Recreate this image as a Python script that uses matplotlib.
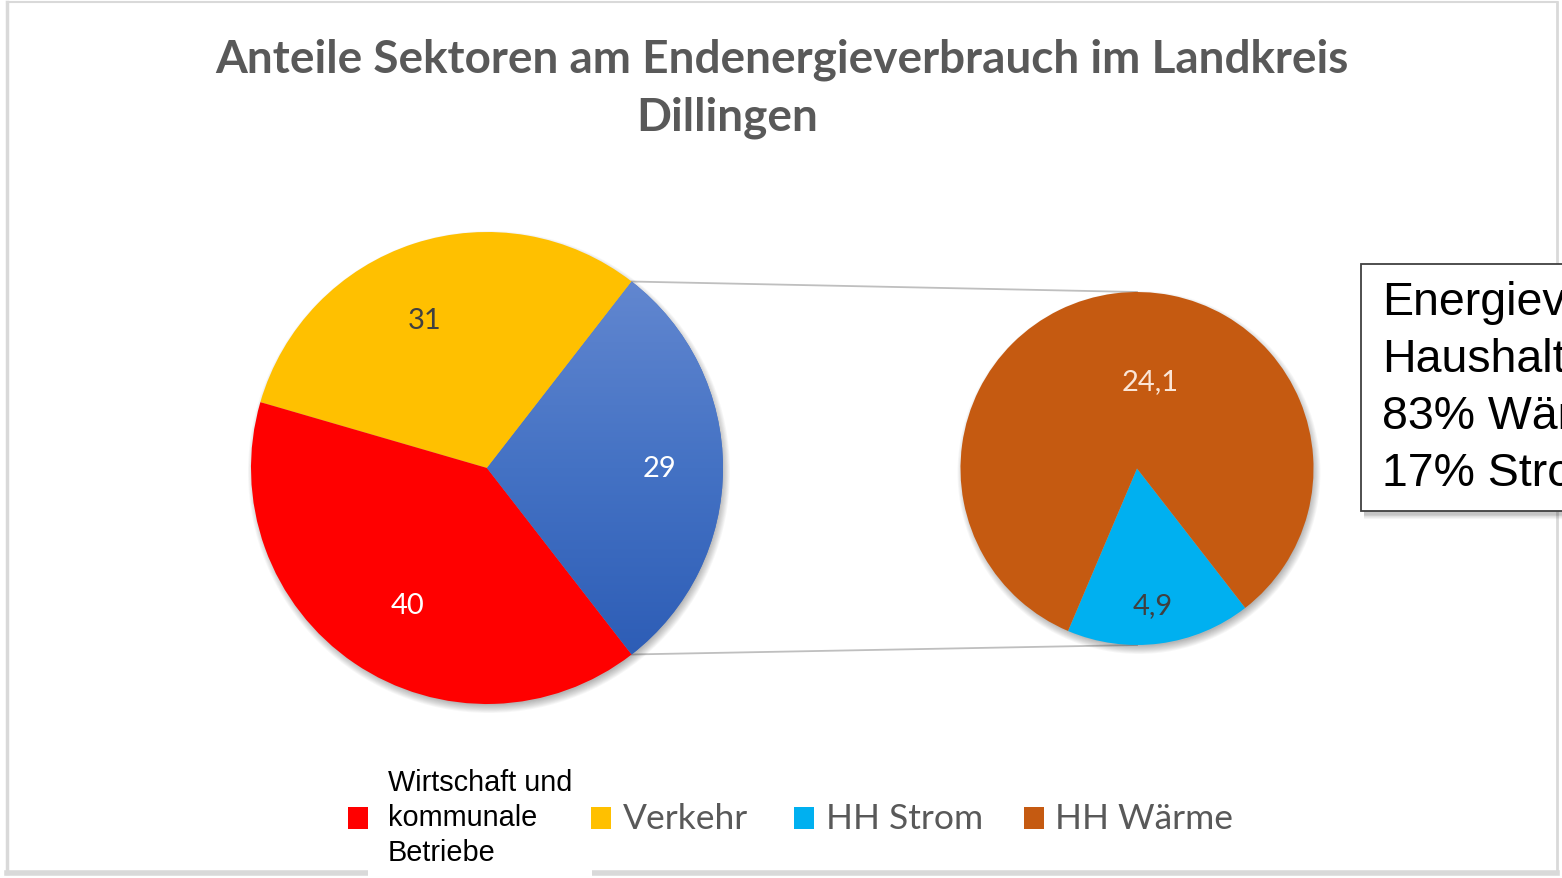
import numpy as np
import matplotlib.pyplot as plt
from matplotlib.patches import Circle, Rectangle
from matplotlib.colors import LinearSegmentedColormap

W, H = 1562, 879

title_lines = ['Anteile Sektoren am Endenergieverbrauch im Landkreis', 'Dillingen']

# main pie: HH (Strom + Wärme), Verkehr, Wirtschaft
main_labels = ['29', '31', '40']
main_values = [29, 31, 40]
main_colors = ['#4472c4', '#ffc000', '#ff0000']
main_text_colors = ['white', '#404040', 'white']

# detail pie for the households
sub_labels = ['4,9', '24,1']
sub_values = [4.9, 24.1]
sub_colors = ['#00b0f0', '#c55a11']
sub_text_colors = ['#404040', '#fbe5d6']

legend_names = ['Wirtschaft und\nkommunale\nBetriebe', 'Verkehr', 'HH Strom', 'HH Wärme']
legend_colors = ['#ff0000', '#ffc000', '#00b0f0', '#c55a11']

box_lines = ['Energieverbrauch', 'Haushalte:', '83% Wärme', '17% Strom']


def Y(y):
    return H - y


fig = plt.figure(figsize=(W / 100, H / 100), dpi=100)
ax = fig.add_axes([0, 0, 1, 1])
ax.set_axis_off()

# frame
frame_c = '#d9d9d9'
ax.plot([7, 7], [Y(3), Y(874)], color=frame_c, lw=2.5)
ax.plot([7, 1557], [Y(3), Y(3)], color=frame_c, lw=1.5)
ax.plot([1557, 1557], [Y(3), Y(874)], color=frame_c, lw=2)
ax.plot([7, 1557], [Y(874), Y(874)], color=frame_c, lw=4)
ax.add_patch(Rectangle((368, Y(879)), 224, 12, facecolor='white', edgecolor='none', zorder=3))

# title
ax.text(782, Y(60), title_lines[0], ha='center', va='center', fontsize=33,
        fontweight='bold', family='Lato', color='#595959')
ax.text(727, Y(118), title_lines[1], ha='center', va='center', fontsize=33,
        fontweight='bold', family='Lato', color='#595959')


def shadow(cx, cy, r):
    for k in range(10):
        ax.add_patch(Circle((cx + 2, cy - 4), r + 5 - k * 0.9, facecolor='black',
                            edgecolor='none', alpha=0.03, zorder=1))


# left pie
c1 = (487, Y(469))
r1 = 236
shadow(c1[0], c1[1], r1)
w1, _ = ax.pie(main_values, colors=main_colors, startangle=-52.2, counterclock=True,
               center=c1, radius=r1, wedgeprops=dict(linewidth=0), frame=True)
for w in w1:
    w.set_zorder(2)

# gradient on the HH slice
cmap = LinearSegmentedColormap.from_list('hh', ['#6287d0', '#4472c4', '#2d5db6'])
grad = np.linspace(0, 1, 256).reshape(-1, 1)
img = ax.imshow(grad, cmap=cmap, extent=[c1[0], c1[0] + r1, c1[1] - r1 * 0.8, c1[1] + r1 * 0.8],
                origin='upper', aspect='auto', zorder=2.5)
img.set_clip_path(w1[0])

main_lab_r = [0.73, 0.68, 0.67]
main_lab_da = [0, 5, 4]
for w, lab, tc, lr, da in zip(w1, main_labels, main_text_colors, main_lab_r, main_lab_da):
    a = np.deg2rad((w.theta1 + w.theta2) / 2 + da)
    ax.text(c1[0] + lr * r1 * np.cos(a), c1[1] + lr * r1 * np.sin(a), lab, ha='center',
            va='center', fontsize=21, family='Lato', color=tc, zorder=4)

# right pie
c2 = (1137, Y(469.5))
r2 = 176.5
shadow(c2[0], c2[1], r2)
w2, _ = ax.pie(sub_values, colors=sub_colors, startangle=247, counterclock=True,
               center=c2, radius=r2, wedgeprops=dict(linewidth=0), frame=True)
for w in w2:
    w.set_zorder(2)

sub_lab_r = [0.78, 0.5]
sub_lab_da = [-1, -16]
for w, lab, tc, lr, da in zip(w2, sub_labels, sub_text_colors, sub_lab_r, sub_lab_da):
    a = np.deg2rad((w.theta1 + w.theta2) / 2 + da)
    ax.text(c2[0] + lr * r2 * np.cos(a), c2[1] + lr * r2 * np.sin(a), lab, ha='center',
            va='center', fontsize=21, family='Lato', color=tc, zorder=4)

# connector lines between the HH slice and the detail pie
hh = w1[0]
for ang, yy in [(hh.theta2, c2[1] + r2), (hh.theta1, c2[1] - r2)]:
    a = np.deg2rad(ang)
    ax.plot([c1[0] + r1 * np.cos(a), c2[0]], [c1[1] + r1 * np.sin(a), yy],
            color='#bfbfbf', lw=1.3, zorder=0.5)

# text box on the right (runs off the edge like in the original slide)
for k in range(6):
    ax.add_patch(Rectangle((1361 + 3, Y(512) - 4 - k * 0.7), 300, 247, facecolor='black',
                           edgecolor='none', alpha=0.04, zorder=5))
ax.add_patch(Rectangle((1361, Y(512)), 300, 247, facecolor='white', edgecolor='#404040',
                       lw=1.3, zorder=6))
for i, line in enumerate(box_lines):
    ax.text(1382, Y(303 + i * 57), line, ha='left', va='center', fontsize=33.5,
            family='Liberation Sans', color='black', zorder=7)

# legend
leg_x = [358, 601, 804, 1034]
leg_tx = [388, 623, 826, 1055]
leg_y = 819
for i, (name, col) in enumerate(zip(legend_names, legend_colors)):
    ax.add_patch(Rectangle((leg_x[i] - 10, Y(leg_y) - 11), 20, 22, facecolor=col,
                           edgecolor='none', zorder=4))
    if i == 0:
        for j, part in enumerate(name.split('\n')):
            ax.text(leg_tx[i], Y(leg_y - 36 + j * 35), part, ha='left', va='center',
                    fontsize=20.8, family='Liberation Sans', color='black', zorder=4)
    else:
        ax.text(leg_tx[i], Y(leg_y), name, ha='left', va='center', fontsize=25.5,
                family='Lato', color='#595959', zorder=4)

ax.set_xlim(0, W)
ax.set_ylim(0, H)
ax.set_aspect('auto')
ax.set_axis_off()

fig.savefig('out.png', dpi=100, facecolor='white')
